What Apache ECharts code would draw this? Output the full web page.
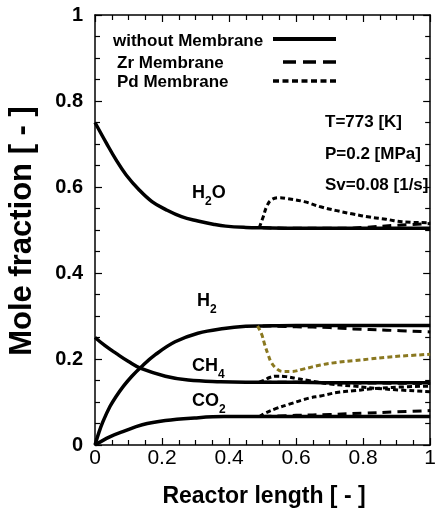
<!DOCTYPE html>
<html>
<head>
<meta charset="utf-8">
<script src="https://cdn.jsdelivr.net/npm/echarts@6/dist/echarts.min.js"></script>
<style>
  html, body { margin: 0; padding: 0; background: #fff; }
  #chart { width: 439px; height: 520px; }
</style>
</head>
<body>
<div id="chart"></div>
<script>
const FONT = '"Liberation Sans", Arial, Helvetica, sans-serif';

// Tick labels (major ticks every 0.2, minor every 0.05)
const xTickLabels = ['0', '0.2', '0.4', '0.6', '0.8', '1'];
const yTickLabels = ['0', '0.2', '0.4', '0.6', '0.8', '1'];

// ---- Without membrane (solid) ----
const noMemH2O_x = [0, 0.034, 0.063, 0.093, 0.132, 0.17, 0.21, 0.258, 0.307, 0.356, 0.39, 0.45, 0.5, 0.6, 0.7, 0.8, 0.9, 1.0];
const noMemH2O_y = [0.75, 0.702, 0.663, 0.628, 0.593, 0.566, 0.548, 0.531, 0.521, 0.513, 0.509, 0.506, 0.505, 0.504, 0.504, 0.504, 0.504, 0.504];

const noMemH2_x = [0, 0.012, 0.024, 0.045, 0.063, 0.085, 0.11, 0.137, 0.18, 0.239, 0.307, 0.385, 0.45, 0.5, 0.6, 0.7, 0.8, 0.9, 1.0];
const noMemH2_y = [0, 0.03, 0.055, 0.09, 0.113, 0.137, 0.16, 0.181, 0.21, 0.24, 0.26, 0.271, 0.276, 0.277, 0.278, 0.278, 0.278, 0.278, 0.278];

const noMemCH4_x = [0, 0.03, 0.063, 0.1, 0.137, 0.21, 0.278, 0.375, 0.45, 0.5, 0.6, 0.7, 0.8, 0.9, 1.0];
const noMemCH4_y = [0.25, 0.231, 0.213, 0.194, 0.178, 0.16, 0.151, 0.147, 0.146, 0.146, 0.146, 0.145, 0.145, 0.145, 0.145];

const noMemCO2_x = [0, 0.044, 0.083, 0.141, 0.21, 0.297, 0.385, 0.45, 0.5, 0.6, 0.7, 0.8, 0.9, 1.0];
const noMemCO2_y = [0, 0.019, 0.031, 0.047, 0.057, 0.063, 0.066, 0.066, 0.066, 0.066, 0.066, 0.066, 0.066, 0.066];

// ---- Zr membrane (dashed) ----
const zrH2O_x = [0.5, 0.6, 0.7, 0.75, 0.8, 0.9, 1.0];
const zrH2O_y = [0.505, 0.504, 0.504, 0.504, 0.506, 0.511, 0.515];

const zrH2_x = [0.5, 0.6, 0.7, 0.77, 0.87, 1.0];
const zrH2_y = [0.277, 0.275, 0.273, 0.27, 0.267, 0.263];

const zrCH4_x = [0.5, 0.6, 0.7, 0.85, 1.0];
const zrCH4_y = [0.146, 0.146, 0.145, 0.144, 0.143];

const zrCO2_x = [0.5, 0.6, 0.7, 0.8, 0.9, 1.0];
const zrCO2_y = [0.066, 0.069, 0.071, 0.074, 0.077, 0.08];

// ---- Pd membrane (dotted) ----
const pdH2O_x = [0.49, 0.502, 0.512, 0.526, 0.551, 0.575, 0.624, 0.673, 0.721, 0.77, 0.819, 0.868, 0.916, 1.0];
const pdH2O_y = [0.505, 0.531, 0.554, 0.57, 0.575, 0.573, 0.566, 0.554, 0.545, 0.537, 0.53, 0.525, 0.519, 0.517];

const pdH2_x = [0.485, 0.497, 0.507, 0.517, 0.526, 0.541, 0.56, 0.585, 0.624, 0.673, 0.721, 0.77, 0.819, 0.868, 0.916, 1.0];
const pdH2_y = [0.277, 0.258, 0.232, 0.209, 0.192, 0.178, 0.171, 0.171, 0.177, 0.186, 0.192, 0.196, 0.2, 0.204, 0.207, 0.211];

const pdCH4_x = [0.49, 0.507, 0.521, 0.541, 0.57, 0.6, 0.637, 0.702, 0.77, 0.868, 1.0];
const pdCH4_y = [0.146, 0.151, 0.157, 0.16, 0.159, 0.155, 0.15, 0.142, 0.137, 0.13, 0.124];

const pdCO2_x = [0.49, 0.507, 0.541, 0.58, 0.638, 0.673, 0.721, 0.77, 0.819, 0.887, 1.0];
const pdCO2_y = [0.066, 0.074, 0.085, 0.095, 0.109, 0.114, 0.122, 0.126, 0.13, 0.134, 0.137];

const zip = (xs, ys) => xs.map((x, i) => [x, ys[i]]);

const BLACK = '#000';
const OLIVE = '#8a7820';
const styles = {
  solid:  { type: 'solid', width: 3.5 },
  zr:     { type: [9, 6], width: 3 },
  pd:     { type: [5, 3], width: 3 }
};

function curve(name, xs, ys, kind, color, z) {
  return {
    name: name,
    type: 'line',
    data: zip(xs, ys),
    showSymbol: false,
    smooth: 0.4,
    z: z,
    lineStyle: { color: color, width: styles[kind].width, type: styles[kind].type, cap: 'butt', join: 'round' },
    emphasis: { disabled: true },
    silent: true,
    animation: false
  };
}

const series = [
  curve('H2O without membrane', noMemH2O_x, noMemH2O_y, 'solid', BLACK, 2),
  curve('H2 without membrane', noMemH2_x, noMemH2_y, 'solid', BLACK, 2),
  curve('CH4 without membrane', noMemCH4_x, noMemCH4_y, 'solid', BLACK, 2),
  curve('CO2 without membrane', noMemCO2_x, noMemCO2_y, 'solid', BLACK, 2),
  curve('H2O Zr membrane', zrH2O_x, zrH2O_y, 'zr', BLACK, 3),
  curve('H2 Zr membrane', zrH2_x, zrH2_y, 'zr', BLACK, 3),
  curve('CH4 Zr membrane', zrCH4_x, zrCH4_y, 'zr', BLACK, 3),
  curve('CO2 Zr membrane', zrCO2_x, zrCO2_y, 'zr', BLACK, 3),
  curve('H2O Pd membrane', pdH2O_x, pdH2O_y, 'pd', BLACK, 4),
  curve('H2 Pd membrane', pdH2_x, pdH2_y, 'pd', OLIVE, 4),
  curve('CH4 Pd membrane', pdCH4_x, pdCH4_y, 'pd', BLACK, 4),
  curve('CO2 Pd membrane', pdCO2_x, pdCO2_y, 'pd', BLACK, 4)
];

function axisBase(labels, show, labelStyle) {
  return {
    type: 'value', min: 0, max: 1, interval: 0.2,
    splitLine: { show: false },
    axisLine: { show: true, onZero: false, lineStyle: { color: BLACK, width: 1.5 } },
    axisTick: { show: true, inside: true, length: 7, lineStyle: { color: BLACK, width: 1.2 } },
    minorTick: { show: true, splitNumber: 4, length: 5, lineStyle: { color: BLACK, width: 1.2 } },
    axisLabel: Object.assign({
      show: show,
      showMinLabel: true, showMaxLabel: true,
      color: BLACK, fontFamily: FONT,
      formatter: v => labels[Math.round(v / 0.2)]
    }, labelStyle)
  };
}

function speciesLabel(x, y, text) {
  return {
    type: 'text', x: x, y: y, z: 10,
    style: {
      text: text, fill: BLACK, verticalAlign: 'middle',
      rich: {
        n: { fontFamily: FONT, fontSize: 18, fontWeight: 'bold', fill: BLACK },
        s: { fontFamily: FONT, fontSize: 12, fontWeight: 'bold', fill: BLACK, padding: [18, 0, 0, 0] }
      }
    }
  };
}

const option = {
  backgroundColor: '#fff',
  animation: false,
  grid: { left: 95, right: 2, top: 15, bottom: 75, containLabel: false },
  xAxis: [
    Object.assign(axisBase(xTickLabels, true, { fontSize: 21, fontWeight: 'normal', margin: 3 }), { position: 'bottom' }),
    Object.assign(axisBase(xTickLabels, false, {}), { position: 'top' })
  ],
  yAxis: [
    Object.assign(axisBase(yTickLabels, true, { fontSize: 20, fontWeight: 'bold', margin: 12 }), { position: 'left' }),
    Object.assign(axisBase(yTickLabels, false, {}), { position: 'right' })
  ],
  series: series,
  graphic: [
    // axis titles
    { type: 'text', x: 22, y: 231, rotation: Math.PI / 2,
      style: { text: 'Mole fraction [ - ]', font: 'bold 31px ' + FONT, fill: BLACK, align: 'center', verticalAlign: 'middle' } },
    { type: 'text', x: 264, y: 497,
      style: { text: 'Reactor length [ - ]', font: 'bold 23px ' + FONT, fill: BLACK, align: 'center', verticalAlign: 'middle' } },

    // legend
    { type: 'text', x: 113, y: 41, style: { text: 'without Membrane', font: 'bold 17px ' + FONT, fill: BLACK, verticalAlign: 'middle' } },
    { type: 'text', x: 117, y: 63, style: { text: 'Zr Membrane', font: 'bold 17px ' + FONT, fill: BLACK, verticalAlign: 'middle' } },
    { type: 'text', x: 117, y: 82, style: { text: 'Pd Membrane', font: 'bold 17px ' + FONT, fill: BLACK, verticalAlign: 'middle' } },
    { type: 'line', shape: { x1: 273, y1: 39, x2: 336, y2: 39 }, style: { stroke: BLACK, lineWidth: 4 } },
    { type: 'line', shape: { x1: 283, y1: 62, x2: 336, y2: 62 }, style: { stroke: BLACK, lineWidth: 3.5, lineDash: [13, 7] } },
    { type: 'line', shape: { x1: 273, y1: 81, x2: 339, y2: 81 }, style: { stroke: BLACK, lineWidth: 3.5, lineDash: [6, 3.5] } },

    // operating conditions
    { type: 'text', x: 325, y: 122, style: { text: 'T=773 [K]', font: 'bold 17px ' + FONT, fill: BLACK, verticalAlign: 'middle' } },
    { type: 'text', x: 325, y: 154, style: { text: 'P=0.2 [MPa]', font: 'bold 17px ' + FONT, fill: BLACK, verticalAlign: 'middle' } },
    { type: 'text', x: 325, y: 185, style: { text: 'Sv=0.08 [1/s]', font: 'bold 17px ' + FONT, fill: BLACK, verticalAlign: 'middle' } },

    // species labels with subscripts
    speciesLabel(192, 193, '{n|H}{s|2}{n|O}'),
    speciesLabel(197, 301, '{n|H}{s|2}'),
    speciesLabel(192, 366, '{n|CH}{s|4}'),
    speciesLabel(192, 401, '{n|CO}{s|2}')
  ]
};

const chart = echarts.init(document.getElementById('chart'), null, { renderer: 'canvas' });
chart.setOption(option);
</script>
</body>
</html>
